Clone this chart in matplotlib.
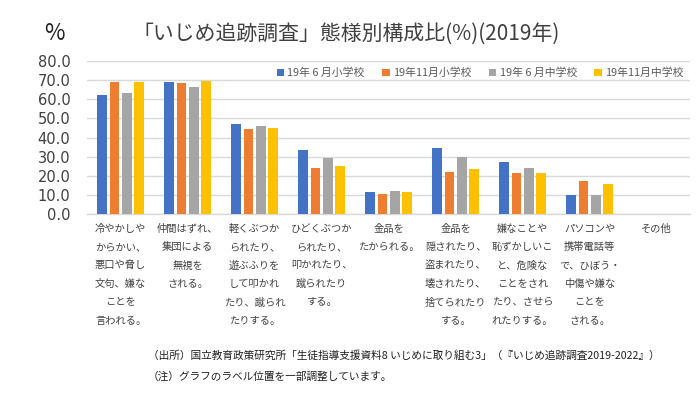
import matplotlib.pyplot as plt
import numpy as np

plt.rcParams['font.family'] = ['Noto Sans CJK JP', 'DejaVu Sans']

categories = [
    "冷やかしや\nからかい、\n悪口や脅し\n文句、嫌な\nことを\n言われる。",
    "仲間はずれ、\n集団による\n無視を\nされる。",
    "軽くぶつか\nられたり、\n遊ぶふりを\nして叩かれ\nたり、蹴られ\nたりする。",
    "ひどくぶつか\nられたり、\n叩かれたり、\n蹴られたり\nする。",
    "金品を\nたかられる。",
    "金品を\n隠されたり、\n盗まれたり、\n壊されたり、\n捨てられたり\nする。",
    "嫌なことや\n恥ずかしいこ\nと、危険な\nことをされ\nたり、させら\nれたりする。",
    "パソコンや\n携帯電話等\nで、ひぼう・\n中傷や嫌な\nことを\nされる。",
    "その他",
]
series_names = ["19年 6 月小学校", "19年11月小学校", "19年 6 月中学校", "19年11月中学校"]
elem_jun = [62.3, 69.3, 47.0, 33.5, 11.3, 34.5, 27.2, 10.0, 0.0]
elem_nov = [69.2, 68.5, 44.6, 24.2, 10.5, 22.0, 21.5, 17.3, 0.0]
mid_jun = [63.4, 66.3, 45.9, 29.3, 12.1, 29.8, 24.3, 10.0, 0.0]
mid_nov = [69.2, 69.4, 45.0, 25.0, 11.4, 23.5, 21.5, 15.8, 0.0]
colors = ["#4472C4", "#ED7D31", "#A5A5A5", "#FFC000"]

fig = plt.figure(figsize=(7, 3.94), dpi=100)
ax = fig.add_axes([0.1245, 0.457, 0.8615, 0.388])

x = np.arange(len(categories))
pitch = 0.184
width = 0.145
for i, (vals, name, c) in enumerate(zip([elem_jun, elem_nov, mid_jun, mid_nov], series_names, colors)):
    ax.bar(x + (i - 1.5) * pitch, vals, width=width, color=c, label=name, zorder=3)

ax.set_xlim(-0.5, len(categories) - 0.5)
ax.set_ylim(0, 80)
ax.set_yticks(np.arange(0, 81, 10))
ax.set_yticklabels([f"{v:.1f}" for v in np.arange(0, 81, 10)], fontsize=10.5, color="#404040",
                   family="DejaVu Sans")
ax.set_xticks(x)
ax.set_xticklabels(categories, fontsize=7.4, color="#404040", linespacing=2.05,
                   multialignment="center", va="top")
ax.tick_params(axis="both", length=0)
ax.tick_params(axis="x", pad=7)
ax.tick_params(axis="y", pad=12)
ax.grid(axis="y", color="#D9D9D9", linewidth=1, zorder=0)
for side in ["top", "right", "left"]:
    ax.spines[side].set_visible(False)
ax.spines["bottom"].set_color("#D9D9D9")
ax.spines["bottom"].set_linewidth(1)

ax.legend(loc="upper right", bbox_to_anchor=(1.0, 1.0), ncol=4, frameon=False,
          fontsize=7.8, labelcolor="#595959", handlelength=0.7, handleheight=0.7,
          handletextpad=0.3, columnspacing=1.6, borderaxespad=0.2)

fig.text(0.494, 0.915, "「いじめ追跡調査」態様別構成比(%)(2019年)", ha="center", va="center",
         fontsize=15, color="#404040")
fig.text(0.078, 0.915, "%", ha="center", va="center", fontsize=16, color="#202020")

fig.text(0.211, 0.098, "（出所）国立教育政策研究所「生徒指導支援資料8 いじめに取り組む3」（『いじめ追跡調査2019-2022』）",
         ha="left", va="center", fontsize=7.7, color="#202020")
fig.text(0.211, 0.045, "（注）グラフのラベル位置を一部調整しています。",
         ha="left", va="center", fontsize=7.7, color="#202020")

fig.savefig("out.png", dpi=100, facecolor="white")
